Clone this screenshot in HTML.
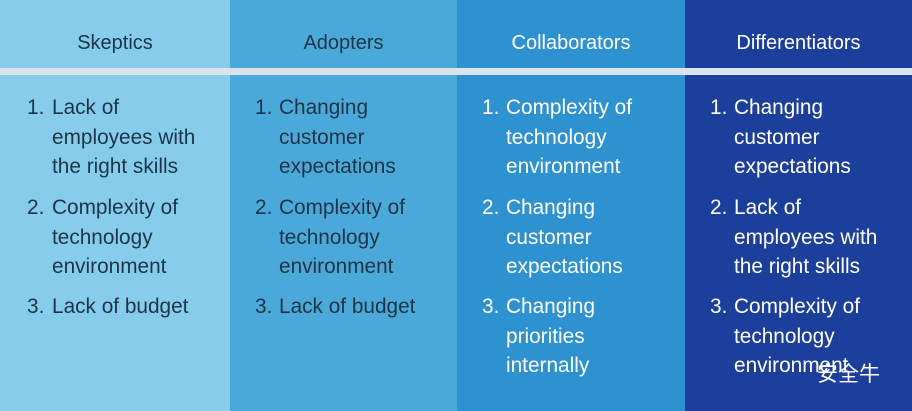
<!DOCTYPE html>
<html><head><style>
body{margin:0;width:912px;height:411px;overflow:hidden;font-family:"Liberation Sans","Noto Sans CJK SC",sans-serif;}
.col{position:absolute;top:0;height:411px;}
.h{position:absolute;top:0;left:0;right:0;height:68px;line-height:86px;text-align:center;font-size:20px;}
.sep{position:absolute;top:68px;left:0;right:0;height:7px;background:#dbe4ea;}
.item{position:absolute;left:0;right:0;font-size:20.8px;line-height:29.5px;}
.n{position:absolute;left:27px;}
.t{position:absolute;left:52px;white-space:nowrap;}
.d{color:#1d3448}.w{color:#fff}
</style></head><body>
<div class="col d" style="left:0;width:230px;background:#86cdec"><div class="h">Skeptics</div><div class="sep"></div>
<div class="item" style="top:93px"><span class="n">1.</span><span class="t">Lack of<br>employees with<br>the right skills</span></div>
<div class="item" style="top:193px"><span class="n">2.</span><span class="t">Complexity of<br>technology<br>environment</span></div>
<div class="item" style="top:292px"><span class="n">3.</span><span class="t">Lack of budget</span></div></div>
<div class="col d" style="left:230px;width:227px;background:#4ba9da"><div class="h">Adopters</div><div class="sep"></div>
<div class="item" style="top:93px"><span class="n" style="left:25px">1.</span><span class="t" style="left:49px">Changing<br>customer<br>expectations</span></div>
<div class="item" style="top:193px"><span class="n" style="left:25px">2.</span><span class="t" style="left:49px">Complexity of<br>technology<br>environment</span></div>
<div class="item" style="top:292px"><span class="n" style="left:25px">3.</span><span class="t" style="left:49px">Lack of budget</span></div></div>
<div class="col w" style="left:457px;width:228px;background:#2f92d0"><div class="h">Collaborators</div><div class="sep"></div>
<div class="item" style="top:93px"><span class="n" style="left:25px">1.</span><span class="t" style="left:49px">Complexity of<br>technology<br>environment</span></div>
<div class="item" style="top:193px"><span class="n" style="left:25px">2.</span><span class="t" style="left:49px">Changing<br>customer<br>expectations</span></div>
<div class="item" style="top:292px"><span class="n" style="left:25px">3.</span><span class="t" style="left:49px">Changing<br>priorities<br>internally</span></div></div>
<div class="col w" style="left:685px;width:227px;background:#1c3f9c"><div class="h">Differentiators</div><div class="sep"></div>
<div class="item" style="top:93px"><span class="n" style="left:25px">1.</span><span class="t" style="left:49px">Changing<br>customer<br>expectations</span></div>
<div class="item" style="top:193px"><span class="n" style="left:25px">2.</span><span class="t" style="left:49px">Lack of<br>employees with<br>the right skills</span></div>
<div class="item" style="top:292px"><span class="n" style="left:25px">3.</span><span class="t" style="left:49px">Complexity of<br>technology<br>environment</span></div>
<div style="position:absolute;left:132px;top:358px;font-size:21px;color:#fff">安全牛</div></div>
</body></html>
